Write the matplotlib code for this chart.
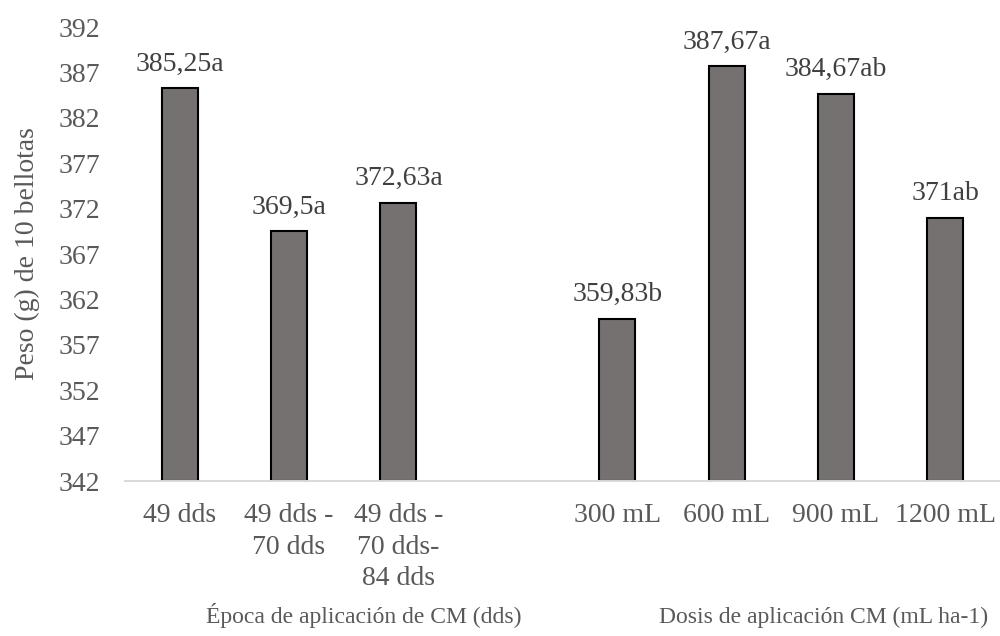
import numpy as np
import matplotlib.pyplot as plt

plt.rcParams['font.family'] = ['Liberation Serif', 'DejaVu Serif']

# datos
categorias = ["49 dds", "49 dds -\n70 dds", "49 dds -\n70 dds-\n84 dds", "",
              "300 mL", "600 mL", "900 mL", "1200 mL"]
pesos = [385.25, 369.5, 372.63, np.nan, 359.83, 387.67, 384.67, 371]
etiquetas = ["385,25a", "369,5a", "372,63a", "", "359,83b", "387,67a", "384,67ab", "371ab"]
grupos = ["Época de aplicación de CM (dds)", "Dosis de aplicación CM (mL ha-1)"]
ymin, ymax = 342, 392

gris_texto = "#595959"
color_barra = "#767171"

fig = plt.figure(figsize=(10, 6.36), dpi=100)
ax = fig.add_axes([0.125, 0.2437, 0.875, 0.7138])

x = np.arange(len(categorias))
alturas = [0 if np.isnan(p) else p - ymin for p in pesos]
barras = ax.bar(x, alturas, bottom=ymin, width=0.33, color=color_barra,
                edgecolor="black", linewidth=1.5)
for i, b in enumerate(barras):
    if np.isnan(pesos[i]):
        b.set_visible(False)
        continue
    ax.annotate(etiquetas[i], (x[i], pesos[i]), xytext=(0, 8.5),
                textcoords="offset points", ha="center", va="bottom",
                fontsize=20, color="#404040")

ax.set_xlim(-0.5, len(categorias) - 0.5)
ax.set_ylim(ymin, ymax)
ax.set_yticks(np.arange(ymin, ymax + 1, 5))
ax.set_xticks(x)
ax.set_xticklabels(categorias, linespacing=1.34)
ax.tick_params(axis="both", length=0, labelsize=20, colors=gris_texto)
ax.tick_params(axis="x", pad=16)
ax.tick_params(axis="y", pad=18)

for s in ["top", "right", "left"]:
    ax.spines[s].set_visible(False)
ax.spines["bottom"].set_color("#d9d9d9")
ax.spines["bottom"].set_linewidth(1.4)

ax.set_ylabel("Peso (g) de 10 bellotas", fontsize=20, color=gris_texto, labelpad=13)

fig.text(0.364, 0.021, grupos[0], ha="center", va="baseline", fontsize=17, color=gris_texto)
fig.text(0.8235, 0.021, grupos[1], ha="center", va="baseline", fontsize=17, color=gris_texto)

fig.savefig("out.png", dpi=100)
